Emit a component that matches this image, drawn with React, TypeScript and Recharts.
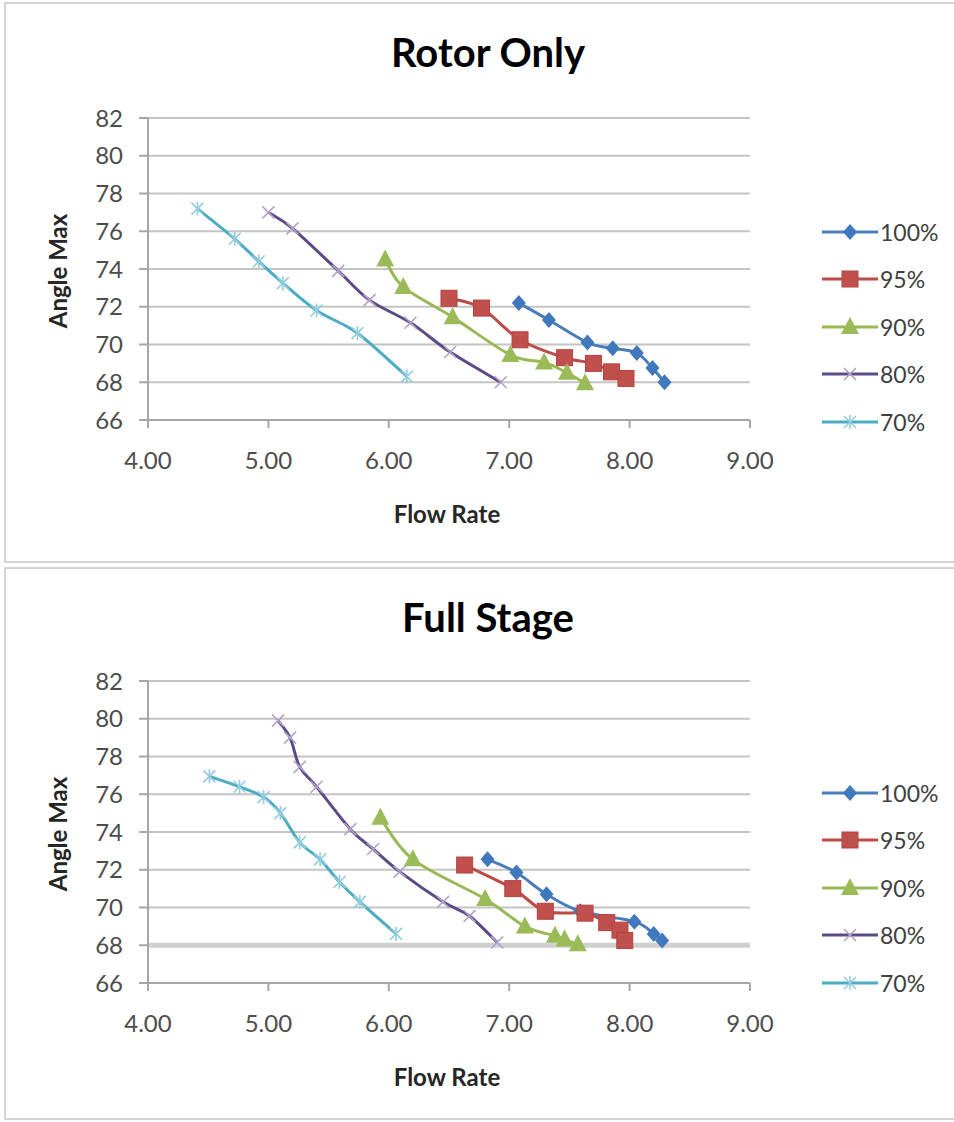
import React from "react";
import {
  LineChart,
  Line,
  XAxis,
  YAxis,
  CartesianGrid,
  Legend,
  Label,
  ReferenceLine,
} from "recharts";

type Pt = [number, number];

const flowTicks = [4, 5, 6, 7, 8, 9];
const angleTicks = [66, 68, 70, 72, 74, 76, 78, 80, 82];
const speedNames = ["100%", "95%", "90%", "80%", "70%"];

// Rotor Only: [flow rate, angle max]
const rotor100: Pt[] = [[7.08, 72.2], [7.33, 71.3], [7.65, 70.1], [7.86, 69.8], [8.06, 69.55], [8.19, 68.75], [8.29, 68.0]];
const rotor95: Pt[] = [[6.5, 72.45], [6.77, 71.93], [7.09, 70.25], [7.46, 69.3], [7.7, 69.0], [7.85, 68.55], [7.97, 68.2]];
const rotor90: Pt[] = [[5.97, 74.5], [6.12, 73.05], [6.53, 71.45], [7.01, 69.45], [7.29, 69.05], [7.48, 68.5], [7.63, 67.95]];
const rotor80: Pt[] = [[5.0, 77.0], [5.2, 76.15], [5.58, 73.9], [5.84, 72.35], [6.18, 71.15], [6.51, 69.6], [6.93, 68.0]];
const rotor70: Pt[] = [[4.41, 77.2], [4.72, 75.6], [4.92, 74.4], [5.12, 73.25], [5.4, 71.8], [5.74, 70.6], [6.15, 68.3]];

// Full Stage: [flow rate, angle max]
const stage100: Pt[] = [[6.82, 72.55], [7.06, 71.85], [7.31, 70.7], [7.59, 69.8], [8.04, 69.25], [8.2, 68.6], [8.27, 68.25]];
const stage95: Pt[] = [[6.63, 72.25], [7.03, 71.0], [7.3, 69.8], [7.63, 69.7], [7.81, 69.2], [7.92, 68.8], [7.96, 68.25]];
const stage90: Pt[] = [[5.93, 74.75], [6.2, 72.55], [6.8, 70.45], [7.13, 69.0], [7.38, 68.5], [7.46, 68.3], [7.57, 68.05]];
const stage80: Pt[] = [[5.08, 79.9], [5.18, 79.0], [5.26, 77.45], [5.4, 76.4], [5.68, 74.15], [5.87, 73.1], [6.09, 71.9], [6.45, 70.3], [6.67, 69.55], [6.9, 68.15]];
const stage70: Pt[] = [[4.51, 76.95], [4.76, 76.4], [4.96, 75.85], [5.1, 75.0], [5.26, 73.45], [5.43, 72.55], [5.59, 71.35], [5.76, 70.3], [6.06, 68.6]];

const look: Record<string, { stroke: string; fill: string; shape: string }> = {
  "100%": { stroke: "#4a7ebb", fill: "#3f78bd", shape: "diamond" },
  "95%": { stroke: "#be4b48", fill: "#c0504d", shape: "square" },
  "90%": { stroke: "#98b954", fill: "#9bbb59", shape: "triangle" },
  "80%": { stroke: "#5e4b86", fill: "#b3a2c7", shape: "x" },
  "70%": { stroke: "#4bacc6", fill: "#93cddd", shape: "star" },
};

const FONT = "Lato, 'Liberation Sans', sans-serif";

// Excel-like smoothed line (Catmull-Rom through the points)
function smoothCurve(context: any) {
  let pts: number[][] = [];
  return {
    areaStart() {},
    areaEnd() {},
    lineStart() {
      pts = [];
    },
    point(x: number, y: number) {
      pts.push([+x, +y]);
    },
    lineEnd() {
      if (!pts.length) return;
      context.moveTo(pts[0][0], pts[0][1]);
      for (let i = 0; i < pts.length - 1; i++) {
        const p0 = pts[i - 1] || pts[i];
        const p1 = pts[i];
        const p2 = pts[i + 1];
        const p3 = pts[i + 2] || p2;
        const k = 1 / 6;
        context.bezierCurveTo(
          p1[0] + (p2[0] - p0[0]) * k,
          p1[1] + (p2[1] - p0[1]) * k,
          p2[0] - (p3[0] - p1[0]) * k,
          p2[1] - (p3[1] - p1[1]) * k,
          p2[0],
          p2[1]
        );
      }
    },
  };
}

function Marker({ shape, cx, cy, color }: { shape: string; cx: number; cy: number; color: string }) {
  switch (shape) {
    case "diamond":
      return <polygon points={`${cx},${cy - 8} ${cx + 7},${cy} ${cx},${cy + 8} ${cx - 7},${cy}`} fill={color} />;
    case "square":
      return <rect x={cx - 8} y={cy - 8} width={16} height={16} fill={color} stroke="#b5423f" strokeWidth={1} />;
    case "triangle":
      return <polygon points={`${cx},${cy - 10} ${cx + 9},${cy + 7} ${cx - 9},${cy + 7}`} fill={color} />;
    case "x":
      return (
        <g stroke={color} strokeWidth={1.6}>
          <line x1={cx - 6} y1={cy - 6} x2={cx + 6} y2={cy + 6} />
          <line x1={cx - 6} y1={cy + 6} x2={cx + 6} y2={cy - 6} />
        </g>
      );
    default:
      return (
        <g stroke={color} strokeWidth={1.6}>
          <line x1={cx - 6} y1={cy - 6} x2={cx + 6} y2={cy + 6} />
          <line x1={cx - 6} y1={cy + 6} x2={cx + 6} y2={cy - 6} />
          <line x1={cx} y1={cy - 7} x2={cx} y2={cy + 7} />
        </g>
      );
  }
}

const renderLegend = (props: any) => {
  const entries = [...(props.payload || [])].sort(
    (a: any, b: any) => speedNames.indexOf(a.value) - speedNames.indexOf(b.value)
  );
  return (
    <div style={{ fontFamily: FONT }}>
      {entries.map((entry: any) => {
        const st = look[entry.value];
        return (
          <div key={entry.value} style={{ height: 47.5, display: "flex", alignItems: "center" }}>
            <svg width={58} height={20}>
              <line x1={0} y1={10} x2={56} y2={10} stroke={st.stroke} strokeWidth={3} />
              <Marker shape={st.shape} cx={28} cy={10} color={st.fill} />
            </svg>
            <span style={{ fontSize: 23, color: "#404040" }}>{entry.value}</span>
          </div>
        );
      })}
    </div>
  );
};

const toRows = (pts: Pt[]) => pts.map(([flow, angle]) => ({ flow, angle }));

interface StageChartProps {
  title: string;
  boxTop: number;
  boxHeight: number;
  plotTop: number;
  legendTop: number;
  series: Pt[][];
  thick68?: boolean;
}

function StageChart({ title, boxTop, boxHeight, plotTop, legendTop, series, thick68 }: StageChartProps) {
  const chartW = 956;
  const chartH = boxHeight - 4;
  const plotH = 302;
  const xAxisH = 110;

  return (
    <div
      style={{
        position: "absolute",
        left: 4,
        top: boxTop,
        width: 960,
        height: boxHeight,
        border: "2px solid #d4d4d4",
        boxSizing: "border-box",
        background: "#fff",
      }}
    >
      <LineChart
        width={chartW}
        height={chartH}
        margin={{ top: plotTop, right: 212, bottom: chartH - plotTop - plotH - xAxisH, left: 42 }}
        style={{ fontFamily: FONT }}
      >
        <CartesianGrid vertical={false} stroke="#c4c4c4" strokeWidth={2} />
        {thick68 && <ReferenceLine y={68} stroke="#d0d0d0" strokeWidth={5} />}
        <XAxis
          dataKey="flow"
          type="number"
          domain={[4, 9]}
          ticks={flowTicks}
          interval={0}
          tickFormatter={(v) => Number(v).toFixed(2)}
          tick={{ fontSize: 24, fill: "#4d4d4d" }}
          tickSize={8}
          tickMargin={24}
          height={xAxisH}
          stroke="#a6a6a6"
          strokeWidth={2}
        >
          <Label
            content={({ viewBox }: any) => (
              <text
                x={viewBox.x + viewBox.width / 2 - 2}
                y={viewBox.y + 103}
                textAnchor="middle"
                fontSize={24}
                fontWeight={700}
                fill="#262626"
                fontFamily={FONT}
              >
                Flow Rate
              </text>
            )}
          />
        </XAxis>
        <YAxis
          type="number"
          domain={[66, 82]}
          ticks={angleTicks}
          interval={0}
          tick={{ fontSize: 24, fill: "#4d4d4d" }}
          tickSize={9}
          tickMargin={16}
          width={100}
          stroke="#a6a6a6"
          strokeWidth={2}
        >
          <Label
            content={({ viewBox }: any) => {
              const x = viewBox.x + 9;
              const y = viewBox.y + viewBox.height / 2 + 2;
              return (
                <text
                  x={x}
                  y={y}
                  transform={`rotate(-90 ${x} ${y})`}
                  textAnchor="middle"
                  dominantBaseline="central"
                  fontSize={24}
                  fontWeight={700}
                  fill="#262626"
                  fontFamily={FONT}
                >
                  Angle Max
                </text>
              );
            }}
          />
        </YAxis>
        <Legend
          layout="vertical"
          align="center"
          verticalAlign="middle"
          content={renderLegend}
          wrapperStyle={{ left: 816, top: legendTop, width: 140 }}
        />
        {series.map((pts, i) => {
          const name = speedNames[i];
          const st = look[name];
          return (
            <Line
              key={name}
              data={toRows(pts)}
              dataKey="angle"
              name={name}
              type={smoothCurve as any}
              stroke={st.stroke}
              strokeWidth={3}
              isAnimationActive={false}
              dot={(p: any) => (
                <Marker key={`${name}-${p.index}`} shape={st.shape} cx={p.cx} cy={p.cy} color={st.fill} />
              )}
              activeDot={false}
            />
          );
        })}
      </LineChart>
      <div
        style={{
          position: "absolute",
          left: 0,
          top: 28,
          width: 964,
          textAlign: "center",
          fontFamily: FONT,
          fontSize: 40,
          lineHeight: "40px",
          fontWeight: 700,
          color: "#000",
        }}
      >
        {title}
      </div>
    </div>
  );
}

export default function App() {
  return (
    <div style={{ position: "absolute", left: 0, top: 0, width: 954, height: 1122, overflow: "hidden", background: "#fff" }}>
      <StageChart
        title="Rotor Only"
        boxTop={2}
        boxHeight={561}
        plotTop={114}
        legendTop={204}
        series={[rotor100, rotor95, rotor90, rotor80, rotor70]}
      />
      <StageChart
        title="Full Stage"
        boxTop={567}
        boxHeight={553}
        plotTop={112}
        legendTop={200}
        series={[stage100, stage95, stage90, stage80, stage70]}
        thick68
      />
    </div>
  );
}
